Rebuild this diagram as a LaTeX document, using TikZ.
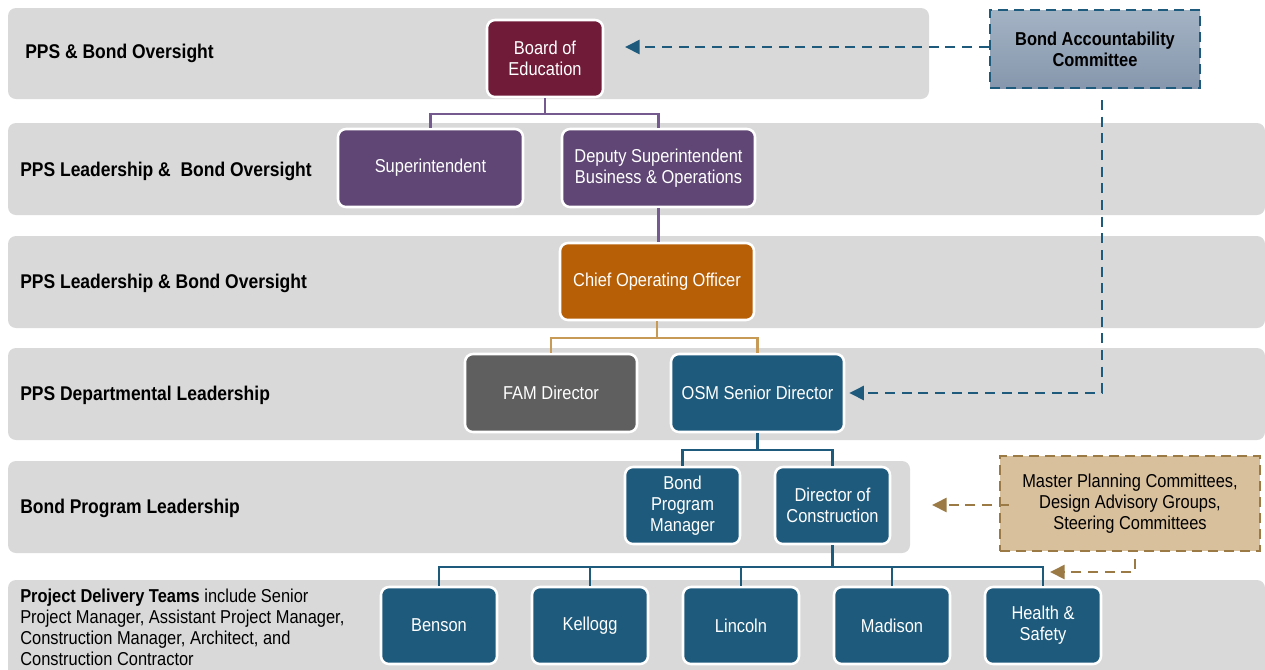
\documentclass[tikz,border=0pt]{standalone}
\usepackage{fontspec}
\setmainfont{Liberation Sans}[FakeStretch=0.88]
\usetikzlibrary{arrows.meta}
\definecolor{band}{HTML}{D9D9D9}
\definecolor{maroon}{HTML}{701C38}
\definecolor{purp}{HTML}{5F4675}
\definecolor{purpline}{HTML}{745A8E}
\definecolor{orng}{HTML}{B65F07}
\definecolor{tanline}{HTML}{C79A55}
\definecolor{grayb}{HTML}{5F5F5F}
\definecolor{blueb}{HTML}{1E5A7C}
\definecolor{mpfill}{HTML}{D9C09C}
\definecolor{brown}{HTML}{9C7A45}
\definecolor{bactop}{HTML}{A4B3C4}
\definecolor{bacbot}{HTML}{8697AD}
\tikzset{
  bandbox/.style={fill=band, draw=none, rounded corners=6pt},
  bandlabel/.style={anchor=west, inner sep=0pt, font=\bfseries\fontsize{14.9}{17}\selectfont},
  orgbox/.style={draw=white, line width=1.9pt, rounded corners=6pt, text=white, align=center, inner sep=0pt,
     font=\fontsize{14}{15.75}\selectfont},
  conn/.style={line width=1.6pt},
  dasharrow/.style={line width=2pt, dash pattern=on 7.5pt off 5pt, -{Triangle[length=11pt,width=10.5pt]}},
}
\begin{document}
\begin{tikzpicture}[x=0.75pt, y=-0.75pt]
\useasboundingbox (0,0) rectangle (1265,669);
% bands
\fill[bandbox] (8,8) rectangle (929,99);
\fill[bandbox] (8,123) rectangle (1265,215);
\fill[bandbox] (8,236) rectangle (1265,328);
\fill[bandbox] (8,348) rectangle (1265,440);
\fill[bandbox] (8,461) rectangle (910,553);
\fill[bandbox] (8,580) rectangle (1265,690);
% band labels
\node[bandlabel] (l1) at (25,53.5) {PPS \& Bond Oversight};
\node[bandlabel] (l2) at (20,171.5) {PPS Leadership \&\ \ Bond Oversight};
\node[bandlabel] (l3) at (20,283.5) {PPS Leadership \& Bond Oversight};
\node[bandlabel] (l4) at (20,395.5) {PPS Departmental Leadership};
\node[bandlabel] (l5) at (20,508.5) {Bond Program Leadership};
\node[anchor=north west, inner sep=0pt, align=left, font=\fontsize{14}{15.75}\selectfont] (l6) at (20,588.5)
  {\textbf{Project Delivery Teams} include Senior\\Project Manager, Assistant Project Manager,\\Construction Manager, Architect, and\\Construction Contractor};
% org boxes
\node[orgbox, fill=maroon, minimum width=87pt, minimum height=57.75pt] (board) at (545,58.5) {Board of\\Education};
\node[orgbox, fill=purp, minimum width=138.75pt, minimum height=58.5pt] (sup) at (430.5,168) {Superintendent};
\node[orgbox, fill=purp, minimum width=144.75pt, minimum height=58.5pt] (dep) at (658.5,168) {Deputy Superintendent\\Business \& Operations};
\node[orgbox, fill=orng, minimum width=145.5pt, minimum height=57.75pt] (coo) at (657,281.5) {Chief Operating Officer};
\node[orgbox, fill=grayb, minimum width=129pt, minimum height=58.5pt] (fam) at (551,393) {FAM Director};
\node[orgbox, fill=blueb, minimum width=129.75pt, minimum height=58.5pt] (osm) at (757.5,393) {OSM Senior Director};
\node[orgbox, fill=blueb, minimum width=86.25pt, minimum height=57.75pt] (bpm) at (682.5,505.5) {Bond\\Program\\Manager};
\node[orgbox, fill=blueb, minimum width=86.25pt, minimum height=57.75pt] (doc) at (832.5,505.5) {Director of\\Construction};
\node[orgbox, fill=blueb, minimum width=87pt, minimum height=57.75pt] (benson) at (439,625.5) {Benson};
\node[orgbox, fill=blueb, minimum width=87pt, minimum height=57.75pt] (kellogg) at (590,625.5) {Kellogg};
\node[orgbox, fill=blueb, minimum width=87pt, minimum height=57.75pt] (lincoln) at (741,625.5) {Lincoln};
\node[orgbox, fill=blueb, minimum width=87pt, minimum height=57.75pt] (madison) at (892,625.5) {Madison};
\node[orgbox, fill=blueb, minimum width=87pt, minimum height=57.75pt] (health) at (1043,625.5) {Health \&\\Safety};
% committees
\node[draw=blueb, line width=1.9pt, dash pattern=on 7.5pt off 4.5pt, top color=bactop, bottom color=bacbot,
  minimum width=157.5pt, minimum height=58.5pt, align=center, inner sep=0pt,
  font=\bfseries\fontsize{14}{15.75}\selectfont] (bac) at (1095,49) {Bond Accountability\\Committee};
\node[draw=brown, line width=1.9pt, dash pattern=on 7.5pt off 4.5pt, fill=mpfill,
  minimum width=195pt, minimum height=71.25pt, align=center, inner sep=0pt,
  font=\fontsize{14}{15.75}\selectfont] (mp) at (1130,503.5) {Master Planning Committees,\\Design Advisory Groups,\\Steering Committees};
% connectors
\draw[conn, purpline] (board.south) -- ++(0,16) -| (sup.north);
\draw[conn, purpline] (board.south) -- ++(0,16) -| (dep.north);
\draw[conn, purpline] (dep.south) -- (dep.south |- coo.north);
\draw[conn, tanline] (coo.south) -- ++(0,17) -| (fam.north);
\draw[conn, tanline] (coo.south) -- ++(0,17) -| (osm.north);
\draw[conn, blueb] (osm.south) -- ++(0,17) -| (bpm.north);
\draw[conn, blueb] (osm.south) -- ++(0,17) -| (doc.north);
\foreach \t in {benson,kellogg,lincoln,madison,health}
  \draw[conn, blueb] (doc.south) -- ++(0,22) -| (\t.north);
% dashed arrows
\coordinate (a1) at (625,47);
\draw[dasharrow, blueb] (bac.west |- a1) -- (a1);
\coordinate (c1) at (1102,100);
\draw[dasharrow, blueb, shorten >=3pt] (c1) |- (osm.east);
\coordinate (a2) at (932,505);
\draw[dasharrow, brown] (mp.west |- a2) ++(10,0) -- (a2);
\coordinate (c2) at (1135,559);
\coordinate (a3) at (1050,572);
\draw[dasharrow, brown] (c2) |- (a3);
\end{tikzpicture}
\end{document}
